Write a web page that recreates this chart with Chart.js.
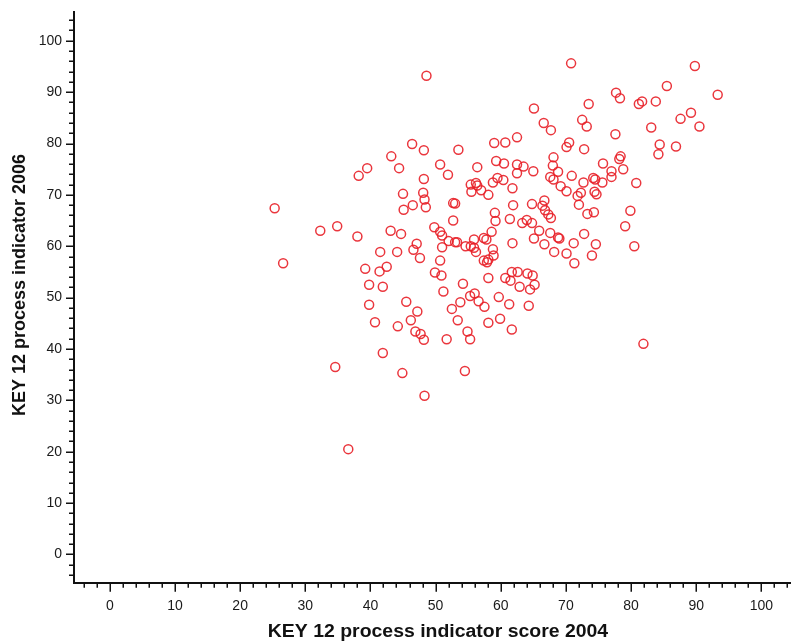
<!DOCTYPE html>
<html>
<head>
<meta charset="utf-8">
<script src="https://cdn.jsdelivr.net/npm/chart.js@4/dist/chart.umd.min.js"></script>
<style>
  html, body { margin: 0; padding: 0; background: #fff; }
  #wrap { width: 796px; height: 642px; }
</style>
</head>
<body>
<div id="wrap"><canvas id="myChart" width="796" height="642"></canvas></div>
<script>
// one entry per unit: score in 2004 and indicator value in 2006
const score2004 = [
  48.6, 25.3, 32.3, 34.9, 38.0, 38.2, 39.5, 43.2, 44.4, 46.4,
  48.2, 45.0, 45.1, 46.5, 48.2, 48.1, 48.3, 48.5, 43.1, 44.7,
  47.1, 50.7, 51.9, 53.5, 56.4, 52.7, 53.0, 52.7, 49.8, 50.7,
  51.0, 55.4, 56.2, 56.4, 55.5, 57.0, 58.1, 59.0, 60.7, 59.3,
  60.5, 59.5, 58.8, 60.4, 61.8, 59.1, 59.2, 58.6, 57.4, 57.8,
  55.9, 61.8, 61.4, 61.9, 62.5, 62.5, 62.5, 52.0, 53.0, 53.3,
  54.6, 55.4, 55.9, 56.2, 41.5, 44.1, 46.6, 47.6, 58.8, 58.9,
  26.6, 50.7, 39.2, 41.4, 42.5, 39.8, 41.9, 39.8, 40.7, 41.9,
  34.6, 44.9, 48.3, 36.6, 49.9, 50.9, 51.2, 45.5, 47.2, 46.2,
  44.2, 46.9, 47.7, 48.2, 51.7, 54.2, 55.3, 56.0, 56.6, 53.8,
  52.5, 53.4, 54.9, 55.3, 54.5, 57.5, 58.1, 59.7, 59.9, 61.3,
  61.7, 58.1, 57.4, 57.9, 58.1, 51.0, 60.7, 61.5, 61.7, 62.6,
  62.9, 64.1, 64.5, 64.9, 65.2, 64.3, 66.7, 68.2, 70.1, 71.2,
  71.3, 74.0, 74.6, 80.5, 81.9, 70.8, 89.8, 85.5, 93.3, 77.7,
  78.3, 81.2, 81.7, 83.8, 73.5, 65.1, 66.6, 67.7, 72.5, 73.2,
  89.2, 87.6, 90.5, 83.1, 77.6, 84.4, 84.2, 86.9, 70.5, 70.1,
  72.8, 68.1, 68.0, 68.8, 67.6, 68.1, 70.9, 75.7, 77.0, 77.0,
  78.8, 78.2, 78.4, 80.8, 72.7, 74.2, 74.5, 75.6, 69.2, 70.1,
  71.8, 72.3, 72.0, 74.4, 74.7, 73.3, 74.3, 79.9, 79.1, 72.8,
  63.5, 65.0, 64.8, 66.4, 66.7, 66.8, 67.3, 67.7, 65.9, 63.3,
  64.0, 64.8, 67.6, 65.1, 68.8, 69.0
];
const indicator2006 = [
  93.2, 67.4, 63.0, 63.9, 61.9, 73.7, 75.2, 77.5, 75.2, 79.9,
  78.7, 70.2, 67.1, 68.0, 73.1, 70.4, 69.1, 67.6, 63.0, 62.4,
  60.5, 75.9, 73.9, 78.8, 75.4, 68.4, 68.3, 65.0, 63.7, 62.8,
  62.1, 72.0, 72.3, 71.8, 70.6, 70.9, 70.0, 80.1, 80.2, 76.6,
  76.1, 73.3, 72.4, 72.9, 71.3, 66.5, 64.9, 62.8, 61.6, 61.3,
  61.3, 60.6, 65.3, 68.0, 81.2, 75.9, 74.2, 61.0, 60.8, 60.8,
  60.0, 60.0, 59.7, 58.9, 58.9, 58.9, 59.3, 57.7, 59.4, 58.2,
  56.7, 57.2, 55.6, 55.1, 56.0, 52.5, 52.1, 48.6, 45.2, 39.2,
  36.5, 35.3, 30.9, 20.5, 54.9, 54.3, 51.2, 49.2, 47.3, 45.6,
  44.4, 43.4, 42.9, 41.8, 41.9, 52.7, 50.3, 50.8, 49.3, 49.1,
  47.8, 45.6, 43.4, 41.9, 35.7, 48.2, 45.1, 50.1, 45.9, 48.7,
  43.8, 53.8, 57.2, 56.9, 57.4, 59.8, 53.8, 53.3, 55.0, 55.0,
  52.1, 54.7, 51.6, 54.3, 52.5, 48.4, 60.4, 58.9, 58.6, 60.6,
  56.7, 58.2, 60.4, 60.0, 41.0, 95.6, 95.1, 91.2, 89.5, 89.9,
  88.8, 87.7, 88.2, 88.2, 87.7, 86.8, 84.0, 82.6, 84.6, 83.3,
  86.0, 84.8, 83.3, 83.1, 81.8, 79.8, 77.9, 79.4, 80.2, 79.3,
  78.9, 77.3, 75.7, 74.5, 73.5, 73.0, 73.7, 76.1, 74.6, 73.5,
  75.0, 77.0, 77.5, 72.3, 72.4, 73.3, 73.0, 72.4, 71.7, 70.7,
  69.8, 70.4, 68.1, 70.6, 70.1, 66.3, 66.6, 66.9, 63.9, 62.4,
  75.5, 74.6, 68.2, 67.9, 68.9, 67.0, 66.2, 65.5, 63.0, 64.5,
  65.1, 64.5, 62.6, 61.5, 61.7, 61.5
];

const tickLabels = [0, 10, 20, 30, 40, 50, 60, 70, 80, 90, 100];
const xTitle = 'KEY 12 process indicator score 2004';
const yTitle = 'KEY 12 process indicator 2006';

Chart.defaults.font.family = "'Liberation Sans', Arial, sans-serif";
Chart.defaults.color = '#1a1a1a';

// labelled ticks only at 0..100; the minor marks are drawn by the plugin below
function labelTicks(scale) {
    scale.ticks = tickLabels.map(v => ({ value: v }));
}

// minor/major tick marks along both axes, plus the two bold axis titles
const axisDecor = {
    id: 'axisDecor',
    afterDraw(chart) {
        const ctx = chart.ctx;
        const area = chart.chartArea;
        const xs = chart.scales.x;
        const ys = chart.scales.y;
        ctx.save();
        ctx.strokeStyle = '#111';
        ctx.lineWidth = 1.5;
        ctx.beginPath();
        for (let v = -4; v <= 104; v += 2) {
            const px = Math.round(xs.getPixelForValue(v)) + 0.25;
            if (px > area.right) break;
            const len = v % 10 === 0 ? 9 : 5;
            ctx.moveTo(px, area.bottom);
            ctx.lineTo(px, area.bottom + len);
        }
        for (let v = -4; v <= 104; v += 2) {
            const py = Math.round(ys.getPixelForValue(v)) + 0.25;
            if (py < area.top) break;
            const len = v % 10 === 0 ? 8 : 5;
            ctx.moveTo(area.left, py);
            ctx.lineTo(area.left - len, py);
        }
        ctx.stroke();

        ctx.fillStyle = '#111';
        ctx.font = "bold 18px 'Liberation Sans', Arial, sans-serif";
        ctx.textAlign = 'center';
        ctx.textBaseline = 'middle';
        ctx.save();
        ctx.translate(438, 632);
        ctx.scale(1.08, 1);
        ctx.fillText(xTitle, 0, 0);
        ctx.restore();
        ctx.translate(20, 285);
        ctx.rotate(-Math.PI / 2);
        ctx.fillText(yTitle, 0, 0);
        ctx.restore();
    }
};

const ctx = document.getElementById('myChart').getContext('2d');
new Chart(ctx, {
    type: 'scatter',
    data: {
        datasets: [{
            label: yTitle,
            data: score2004.map((x, i) => ({ x: x, y: indicator2006[i] })),
            showLine: false,
            pointStyle: 'circle',
            pointRadius: 4.5,
            pointBorderWidth: 1.5,
            pointBorderColor: 'rgba(232, 32, 40, 0.9)',
            pointBackgroundColor: 'rgba(0, 0, 0, 0)'
        }]
    },
    options: {
        responsive: false,
        animation: false,
        devicePixelRatio: 1,
        layout: { padding: { top: 12, left: 0, right: 0, bottom: 0 } },
        plugins: {
            legend: { display: false },
            tooltip: { enabled: false }
        },
        scales: {
            x: {
                type: 'linear',
                min: -5.5,
                max: 104.4,
                grid: { display: false, drawTicks: false },
                border: { display: true, color: '#111', width: 2 },
                ticks: { autoSkip: false, maxRotation: 0, padding: 15, font: { size: 14 } },
                afterBuildTicks: labelTicks,
                afterFit(scale) {
                    scale.height = 59.3;
                    scale.paddingLeft = 0;
                    scale.paddingRight = 0;
                }
            },
            y: {
                type: 'linear',
                min: -5.5,
                max: 105.6,
                grid: { display: false, drawTicks: false },
                border: { display: true, color: '#111', width: 2 },
                ticks: { autoSkip: false, padding: 12, font: { size: 14 } },
                afterBuildTicks: labelTicks,
                afterFit(scale) {
                    scale.width = 74;
                    scale.paddingTop = 0;
                    scale.paddingBottom = 0;
                }
            }
        }
    },
    plugins: [axisDecor]
});
</script>
</body>
</html>
